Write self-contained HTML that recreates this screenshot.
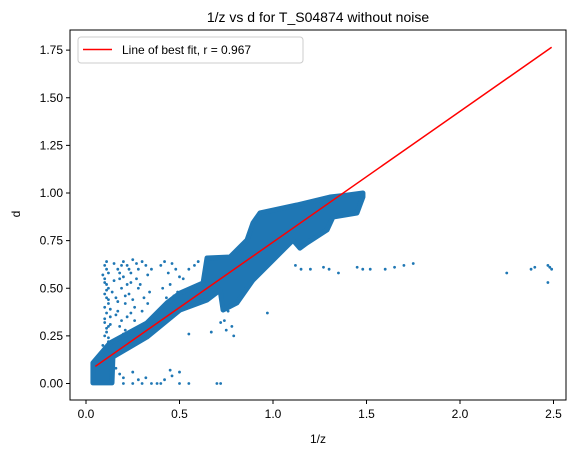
<!DOCTYPE html>
<html><head><meta charset="utf-8"><style>
body{margin:0;background:#fff;}
svg{display:block;font-family:"Liberation Sans","DejaVu Sans",sans-serif;}
</style></head><body>
<svg id="chart" width="576" height="453" viewBox="0 0 576 453">
<rect width="576" height="453" fill="#fff"/>
<text x="318" y="22" text-anchor="middle" font-size="14" fill="#000">1/z vs d for T_S04874 without noise</text>
<g id="plot"></g>
<text x="318" y="443" text-anchor="middle" font-size="12">1/z</text>
<text x="0" y="0" transform="translate(20,214) rotate(-90)" text-anchor="middle" font-size="12">d</text>
<g>
<rect x="78" y="37" width="225" height="26" rx="3" fill="#fff" stroke="#ccc"/>
<line x1="83" y1="49.5" x2="112" y2="49.5" stroke="red" stroke-width="1.5"/>
<text x="122" y="54" font-size="12">Line of best fit, r = 0.967</text>
</g>
</svg>
<script>
const xTicks=[0,0.5,1,1.5,2,2.5];
const xTickLabels=["0.0","0.5","1.0","1.5","2.0","2.5"];
const yTicks=[0,0.25,0.5,0.75,1,1.25,1.5,1.75];
const yTickLabels=["0.00","0.25","0.50","0.75","1.00","1.25","1.50","1.75"];
const bandX=[0.037,0.128,0.326,0.433,0.503,0.626,0.647,0.770,0.861,0.893,0.930,1.128,1.305,1.396,1.481,1.481,1.449,1.321,1.289,1.182,1.144,1.107,1.0,0.893,0.807,0.733,0.717,0.647,0.503,0.326,0.144,0.139,0.037];
const bandD=[0.108,0.213,0.318,0.423,0.475,0.528,0.659,0.664,0.753,0.843,0.895,0.937,0.979,0.989,1.0,0.979,0.895,0.874,0.806,0.738,0.711,0.753,0.648,0.543,0.423,0.386,0.491,0.438,0.386,0.244,0.139,0.003,0.003];
const ptX=[0.1,0.11,0.12,0.1,0.11,0.12,0.1,0.11,0.12,0.1,0.11,0.13,0.1,0.12,0.11,0.1,0.12,0.11,
0.15,0.17,0.18,0.2,0.22,0.24,0.25,0.27,0.28,0.3,0.32,0.33,0.35,0.16,0.19,0.21,0.23,0.26,0.29,0.31,0.34,0.18,0.22,0.26,0.3,0.2,0.24,0.28,0.17,0.21,0.25,0.33,0.19,0.23,0.27,
0.4,0.42,0.44,0.46,0.48,0.5,0.52,0.41,0.45,0.49,0.43,0.47,0.55,0.58,0.6,
0.55,0.67,0.75,0.78,0.79,0.97,0.76,0.74,0.72,
1.12,1.15,1.2,1.27,1.3,1.35,1.45,1.48,1.52,1.6,1.65,1.7,1.75,2.25,2.38,2.4,2.47,2.48,2.49,2.47,
0.2,0.25,0.3,0.35,0.45,0.46,0.5,0.55,0.7,0.72,0.25,0.4,0.2,0.18,0.28,0.38,0.42,0.5,0.16,0.32,
0.09,0.1,0.11,0.12,0.13,0.1,0.11,0.12,0.09,0.13,0.14,0.15,0.16,0.17,0.19,0.2,0.22,0.24,0.18,0.21];
const ptD=[0.62,0.6,0.58,0.55,0.52,0.5,0.47,0.45,0.42,0.4,0.37,0.35,0.32,0.3,0.27,0.25,0.22,0.64,
0.63,0.6,0.55,0.64,0.62,0.58,0.65,0.63,0.6,0.64,0.62,0.57,0.6,0.45,0.5,0.42,0.47,0.4,0.52,0.45,0.48,0.3,0.35,0.33,0.38,0.56,0.53,0.5,0.38,0.28,0.44,0.42,0.62,0.6,0.55,
0.62,0.64,0.58,0.63,0.6,0.56,0.55,0.5,0.52,0.48,0.45,0.46,0.6,0.62,0.64,
0.26,0.27,0.28,0.3,0.25,0.37,0.38,0.33,0.32,
0.62,0.6,0.6,0.61,0.6,0.58,0.61,0.6,0.6,0.6,0.61,0.62,0.63,0.58,0.6,0.61,0.62,0.61,0.6,0.53,
0.03,0.06,0.0,0.0,0.07,0.04,0.0,0.0,0.0,0.0,0.0,0.0,0.0,0.05,0.02,0.0,0.02,0.06,0.08,0.03,
0.57,0.53,0.49,0.44,0.39,0.34,0.29,0.24,0.2,0.31,0.48,0.54,0.36,0.43,0.33,0.26,0.52,0.37,0.58,0.46];
const fitX=[0.05,2.49];
const fitD=[0.09,1.765];

const L=70,R=566,T=30,B=400;
const sx=v=>86+187*v, sy=d=>383.5-190.5*d;
const NS="http://www.w3.org/2000/svg";
const g=document.getElementById('plot');
function mk(t,a){const e=document.createElementNS(NS,t);for(const k in a)e.setAttribute(k,a[k]);g.appendChild(e);return e;}
const band=mk('polygon',{points:bandX.map((v,i)=>sx(v)+','+sy(bandD[i])).join(' '),fill:'#1f77b4',stroke:'#1f77b4','stroke-width':'5','stroke-linejoin':'round'});


ptX.forEach((v,i)=>{const c=mk('circle',{cx:sx(v),cy:sy(ptD[i]),r:1.4,fill:'#1f77b4'});

});
const ln=mk('line',{x1:sx(fitX[0]),y1:sy(fitD[0]),x2:sx(fitX[1]),y2:sy(fitD[1]),stroke:'red','stroke-width':1.5});


const fr=mk('rect',{x:L,y:T,width:R-L,height:B-T,fill:'none',stroke:'#000','stroke-width':1});


xTicks.forEach((v,i)=>{mk('line',{x1:sx(v),x2:sx(v),y1:B,y2:B+4,stroke:'#000'});
const t=mk('text',{x:sx(v),y:B+18,'text-anchor':'middle','font-size':12});t.textContent=xTickLabels[i];

});
yTicks.forEach((v,i)=>{mk('line',{x1:L-4,x2:L,y1:sy(v),y2:sy(v),stroke:'#000'});
const t=mk('text',{x:L-7,y:sy(v)+4,'text-anchor':'end','font-size':12});t.textContent=yTickLabels[i];

});
</script>
</body></html>
